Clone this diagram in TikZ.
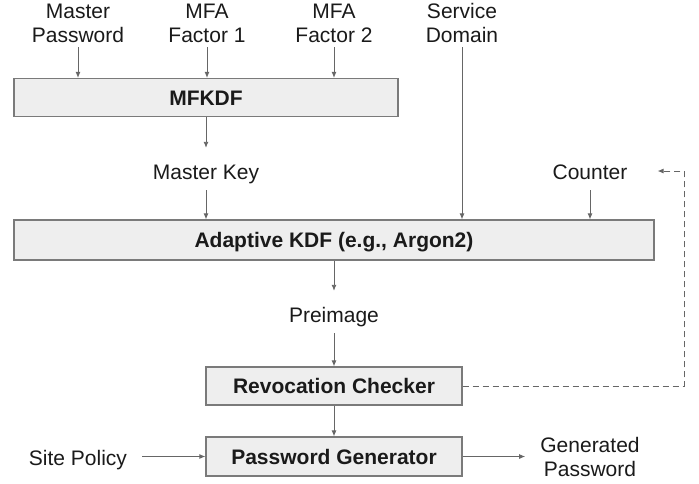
\documentclass[tikz,border=0pt]{standalone}
\usepackage{fontspec}
\setmainfont{Liberation Sans}
\usetikzlibrary{arrows.meta}
\definecolor{boxfill}{HTML}{EEEEEE}
\definecolor{boxline}{HTML}{7A7A7A}
\definecolor{arrowgray}{HTML}{666666}
\definecolor{ink}{HTML}{1A1A1A}
\begin{document}
\begin{tikzpicture}[x = 1pt, y = -1pt,
        every node/.style = {font = \fontsize{21}{24.5}\selectfont, text = ink},
        blk/.style = {draw = boxline, fill = boxfill, line width = 1.2pt,
            font = \fontsize{21}{24.5}\selectfont\bfseries,
            text height = 15pt, text depth = 0pt, minimum height = 38pt},
        lbl/.style = {inner xsep = 15pt, inner ysep = 7pt, text height = 24pt, text depth = 4pt},
        two/.style = {align = center, inner xsep = 15pt, inner ysep = 4pt},
        arr/.style = {draw = arrowgray, line width = 0.9pt, -{Latex[length = 6pt, width = 5pt]}},
        fb/.style = {arr, dash pattern = on 6pt off 4pt}]
            \useasboundingbox (0, 0) rectangle (699, 483);
            % inputs
            \node [two, anchor = south] (mpw) at (78, 47) {Master\\Password};
            \node [two, anchor = south] (mfa1) at (207, 47) {MFA\\Factor 1};
            \node [two, anchor = south] (mfa2) at (334, 47) {MFA\\Factor 2};
            \node [two, anchor = south] (svc) at (462, 47) {Service\\Domain};
            \node [blk, minimum width = 384pt] (mfkdf) at (206, 97.5) {MFKDF};
            \node [lbl, anchor = base] (mk) at (206, 179) {Master Key};
            \node [lbl, anchor = base] (ctr) at (590, 179) {Counter};
            \node [blk, minimum width = 640pt, minimum height = 40pt] (akdf) at (334, 240) {Adaptive KDF (e.g., Argon2)};
            \node [lbl, anchor = base] (pre) at (334, 322) {Preimage};
            \node [blk, minimum width = 256pt] (revoc) at (334, 386) {Revocation Checker};
            \node [blk, minimum width = 256pt, minimum height = 39pt] (pwgen) at (334, 456.5) {Password Generator};
            \node [lbl, anchor = base] (sp) at (78, 465) {Site Policy};
            \node [two, anchor = south] (gp) at (590, 481) {Generated\\Password};
            \coordinate (turn) at (684, 171);
            % arrows
            \draw [arr] (mpw.south) -- (mpw.south |- mfkdf.north);
            \draw [arr] (mfa1.south) -- (mfa1.south |- mfkdf.north);
            \draw [arr] (mfa2.south) -- (mfa2.south |- mfkdf.north);
            \draw [arr] (svc.south) -- (svc.south |- akdf.north);
            \draw [arr] (mfkdf.south) -- (mfkdf.south |- mk.north);
            \draw [arr] (mk.south) -- (mk.south |- akdf.north);
            \draw [arr] (ctr.south) -- (ctr.south |- akdf.north);
            \draw [arr] (akdf.south) -- (pre.north);
            \draw [arr] (pre.south) -- (revoc.north);
            \draw [arr] (revoc.south) -- (pwgen.north);
            \draw [arr] (sp.east |- pwgen.west) -- (pwgen.west);
            \draw [arr] (pwgen.east) -- (pwgen.east -| gp.west);
            \draw [fb, shorten >= 15pt] (revoc.east) -| (turn) -- (turn -| ctr.east);
        \end{tikzpicture}
\end{document}
